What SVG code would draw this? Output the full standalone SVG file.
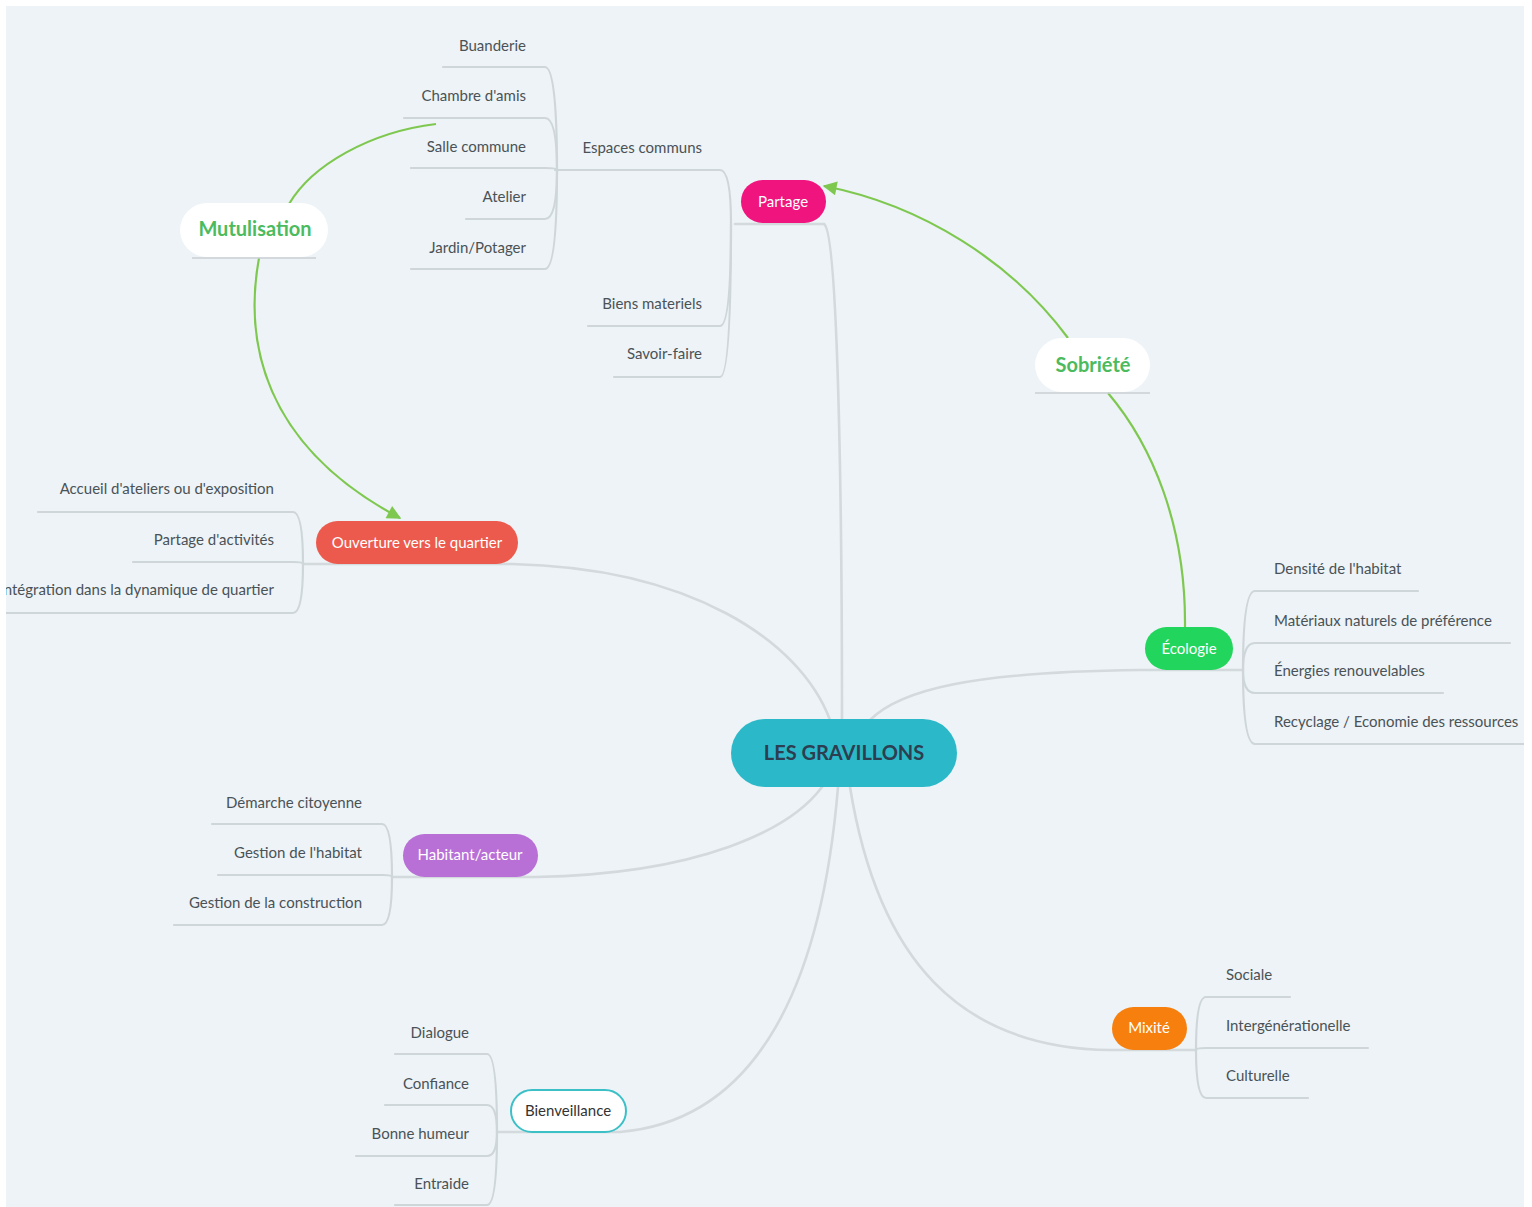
<svg xmlns="http://www.w3.org/2000/svg" width="1532" height="1207" viewBox="0 0 1532 1207">
<defs>
<style>
.bg{fill:#edf3f6}
.ln{fill:none;stroke:#cfd6d9;stroke-width:2.2;stroke-linecap:round}
.main{fill:none;stroke:#d3d9dc;stroke-width:2.6;stroke-linecap:round}
.rel{fill:none;stroke:#7ec850;stroke-width:2.2}
.leaf{font-family:Lato,"Open Sans","DejaVu Sans",sans-serif;font-size:15px;fill:#4a5257}
.r{text-anchor:end}
.nt{font-family:Lato,"Open Sans","DejaVu Sans",sans-serif;font-size:15px;fill:#ffffff;text-anchor:middle}
.big{font-family:Lato,"Open Sans","DejaVu Sans",sans-serif;font-size:20px;font-weight:bold;text-anchor:middle}
.float{fill:#ffffff}
.fl{fill:none;stroke:#c9cfd2;stroke-width:1.5}
</style>
<marker id="arr" viewBox="0 0 10 10" refX="9" refY="5" markerUnits="userSpaceOnUse" markerWidth="18" markerHeight="14" orient="auto">
<path d="M0,0 L10,5 L0,10 z" fill="#7ec850"/>
</marker>
<clipPath id="panel"><rect x="6" y="6" width="1518" height="1201"/></clipPath>
</defs>
<rect x="0" y="0" width="1532" height="1207" fill="#ffffff"/>
<rect class="bg" x="6" y="6" width="1518" height="1201"/>

<g id="connectors" clip-path="url(#panel)">
<!-- main branches -->
<path class="main" d="M735,224 L824,224 C 838,232 842,500 842,720"/>
<path class="main" d="M303,564 L512,564 C 690,568 800,640 830,720"/>
<path class="main" d="M1243,670 L1140,670 C 970,672 900,690 870,720"/>
<path class="main" d="M392,877 L536,877 C 700,874 790,830 822,787"/>
<path class="main" d="M497,1132 L620,1132 C 760,1120 822,980 838,787"/>
<path class="main" d="M1196,1050 L1110,1050 C 960,1048 878,960 850,787"/>
<!-- Partage children -->
<path class="ln" d="M731,224 Q731,170 720,170 L555,170"/>
<path class="ln" d="M731,224 Q731,326 720,326 L588,326"/>
<path class="ln" d="M731,224 Q731,377 720,377 L614,377"/>
<!-- Espaces communs children -->
<path class="ln" d="M557,170 Q557,67 545,67 L443,67"/>
<path class="ln" d="M557,170 Q557,118 545,118 L404,118"/>
<path class="ln" d="M557,170 Q557,168 545,168 L411,168"/>
<path class="ln" d="M557,170 Q557,219 545,219 L466,219"/>
<path class="ln" d="M557,170 Q557,269 545,269 L411,269"/>
<!-- Ouverture children -->
<path class="ln" d="M303,564 Q303,512 293,512 L38,512"/>
<path class="ln" d="M303,564 Q303,562 293,562 L133,562"/>
<path class="ln" d="M303,564 Q303,613 293,613 L6,613"/>
<!-- Ecologie children -->
<path class="ln" d="M1243,670 Q1243,591 1255,591 L1418,591"/>
<path class="ln" d="M1243,670 Q1243,643 1255,643 L1510,643"/>
<path class="ln" d="M1243,670 Q1243,693 1255,693 L1443,693"/>
<path class="ln" d="M1243,670 Q1243,744 1255,744 L1524,744"/>
<!-- Habitant children -->
<path class="ln" d="M392,877 Q392,824 382,824 L212,824"/>
<path class="ln" d="M392,877 Q392,875 382,875 L218,875"/>
<path class="ln" d="M392,877 Q392,925 382,925 L174,925"/>
<!-- Bienveillance children -->
<path class="ln" d="M497,1132 Q497,1054 487,1054 L395,1054"/>
<path class="ln" d="M497,1132 Q497,1105 487,1105 L385,1105"/>
<path class="ln" d="M497,1132 Q497,1156 487,1156 L356,1156"/>
<path class="ln" d="M497,1132 Q497,1205 487,1205 L395,1205"/>
<!-- Mixite children -->
<path class="ln" d="M1196,1050 Q1196,997 1206,997 L1290,997"/>
<path class="ln" d="M1196,1050 Q1196,1048 1206,1048 L1368,1048"/>
<path class="ln" d="M1196,1050 Q1196,1098 1206,1098 L1308,1098"/>
<!-- relationships -->
<path class="rel" d="M436,124 C 370,132 312,165 289,204"/>
<path class="rel" d="M259,258 C 244,340 262,445 400,518" marker-end="url(#arr)"/>
<path class="rel" d="M1185,627 C 1186,525 1152,445 1108,393"/>
<path class="rel" d="M1068,338 C 1012,262 922,205 824,186" marker-end="url(#arr)"/>
</g>

<g id="center">
<rect x="731" y="719" width="226" height="68" rx="34" fill="#2bb9c9"/>
<text class="big" x="844" y="760" fill="#2d3e50">LES GRAVILLONS</text>
</g>

<g id="partage">
<rect x="741" y="180" width="85" height="43" rx="21.5" fill="#f0147f"/>
<text class="nt" x="783" y="207">Partage</text>
</g>
<g id="espaces-communs"><text class="leaf r" x="702" y="153">Espaces communs</text></g>
<g id="buanderie"><text class="leaf r" x="526" y="51">Buanderie</text></g>
<g id="chambre"><text class="leaf r" x="526" y="101">Chambre d'amis</text></g>
<g id="salle"><text class="leaf r" x="526" y="152">Salle commune</text></g>
<g id="atelier"><text class="leaf r" x="526" y="202">Atelier</text></g>
<g id="jardin"><text class="leaf r" x="526" y="253">Jardin/Potager</text></g>
<g id="biens"><text class="leaf r" x="702" y="309">Biens materiels</text></g>
<g id="savoir"><text class="leaf r" x="702" y="359">Savoir-faire</text></g>

<g id="mutulisation">
<rect class="float" x="180" y="203" width="148" height="54" rx="27"/>
<line class="fl" x1="192" y1="258" x2="316" y2="258"/>
<text class="big" x="255" y="236" fill="#4cbb5e">Mutulisation</text>
</g>
<g id="sobriete">
<rect class="float" x="1035" y="338" width="115" height="54" rx="27"/>
<line class="fl" x1="1035" y1="393" x2="1150" y2="393"/>
<text class="big" x="1093" y="372" fill="#4cbb5e">Sobriété</text>
</g>

<g id="ouverture">
<rect x="316" y="521" width="202" height="43" rx="21.5" fill="#ec5a4e"/>
<text class="nt" x="417" y="548">Ouverture vers le quartier</text>
</g>
<g id="accueil"><text class="leaf r" x="274" y="494">Accueil d'ateliers ou d'exposition</text></g>
<g id="partage-act"><text class="leaf r" x="274" y="545">Partage d'activités</text></g>
<g id="integration" clip-path="url(#panel)"><text class="leaf r" x="274" y="595">Intégration dans la dynamique de quartier</text></g>

<g id="ecologie">
<rect x="1145" y="627" width="88" height="43" rx="21.5" fill="#22d55c"/>
<text class="nt" x="1189" y="654">Écologie</text>
</g>
<g id="densite"><text class="leaf" x="1274" y="574">Densité de l'habitat</text></g>
<g id="materiaux"><text class="leaf" x="1274" y="626">Matériaux naturels de préférence</text></g>
<g id="energies"><text class="leaf" x="1274" y="676">Énergies renouvelables</text></g>
<g id="recyclage"><text class="leaf" x="1274" y="727">Recyclage / Economie des ressources</text></g>

<g id="habitant">
<rect x="403" y="834" width="135" height="43" rx="21.5" fill="#b86fd6"/>
<text class="nt" x="470" y="860">Habitant/acteur</text>
</g>
<g id="demarche"><text class="leaf r" x="362" y="808">Démarche citoyenne</text></g>
<g id="gestion-hab"><text class="leaf r" x="362" y="858">Gestion de l'habitat</text></g>
<g id="gestion-cons"><text class="leaf r" x="362" y="908">Gestion de la construction</text></g>

<g id="bienveillance">
<rect x="511" y="1090" width="115" height="42" rx="21" fill="#ffffff" stroke="#3cc0c8" stroke-width="2"/>
<text class="nt" x="568" y="1116" fill="#333333" style="fill:#333333">Bienveillance</text>
</g>
<g id="dialogue"><text class="leaf r" x="469" y="1038">Dialogue</text></g>
<g id="confiance"><text class="leaf r" x="469" y="1089">Confiance</text></g>
<g id="bonne"><text class="leaf r" x="469" y="1139">Bonne humeur</text></g>
<g id="entraide"><text class="leaf r" x="469" y="1189">Entraide</text></g>

<g id="mixite">
<rect x="1112" y="1007" width="75" height="43" rx="21.5" fill="#f77f0e"/>
<text class="nt" x="1149" y="1033">Mixité</text>
</g>
<g id="sociale"><text class="leaf" x="1226" y="980">Sociale</text></g>
<g id="interg"><text class="leaf" x="1226" y="1031">Intergénérationelle</text></g>
<g id="culturelle"><text class="leaf" x="1226" y="1081">Culturelle</text></g>
</svg>
